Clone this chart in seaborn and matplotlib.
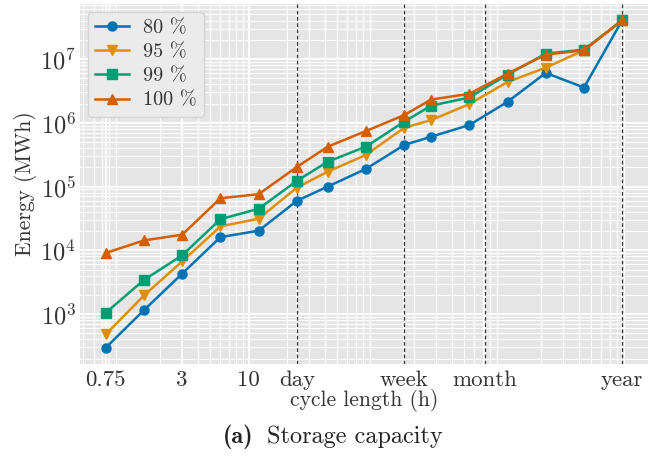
import matplotlib
matplotlib.use("Agg")
import matplotlib.pyplot as plt
import matplotlib.ticker as mticker
import seaborn as sns
import pandas as pd

# ---- data ----
cycle_hours = [0.75, 1.5, 3, 6, 12, 24, 42, 84, 168, 273.75, 547.5, 1095, 2190, 4380, 8760]
energy_80 = [298, 1155, 4325, 16100, 20300, 59700, 100000, 189000, 448000, 604000, 921000, 2.13e6, 6.04e6, 3.57e6, 4.03e7]
energy_95 = [482, 1960, 6730, 23700, 31300, 96400, 171000, 313000, 835000, 1.10e6, 1.96e6, 4.36e6, 7.31e6, 1.37e7, 4.03e7]
energy_99 = [1050, 3440, 8360, 30800, 44800, 123000, 245000, 422000, 1.04e6, 1.85e6, 2.49e6, 5.69e6, 1.21e7, 1.40e7, 4.03e7]
energy_100 = [9100, 14300, 17600, 65600, 75900, 203000, 422000, 741000, 1.32e6, 2.31e6, 2.84e6, 5.89e6, 1.17e7, 1.37e7, 4.03e7]
series_labels = ["80 %", "95 %", "99 %", "100 %"]
tick_values = [0.75, 3, 10, 24, 168, 730, 8760]
tick_labels = ["0.75", "3", "10", "day", "week", "month", "year"]
marker_lines = [24, 168, 730, 8760]

sns.set_style({"axes.facecolor": "#E5E5E5", "grid.color": "white",
               "axes.edgecolor": "#E5E5E5", "axes.grid": True})
plt.rcParams["font.family"] = ["cmr10", "DejaVu Serif"]
plt.rcParams["mathtext.fontset"] = "cm"
plt.rcParams["axes.formatter.use_mathtext"] = True
plt.rcParams["axes.unicode_minus"] = False

palette = sns.color_palette("colorblind")
colors = [palette[0], palette[1], palette[2], palette[3]]
markers = ["o", "v", "s", "^"]
all_series = [energy_80, energy_95, energy_99, energy_100]

fig = plt.figure(figsize=(6.65, 4.58), dpi=100)
ax = fig.add_axes([80 / 665, 1 - 364 / 458, (648 - 80) / 665, (364 - 4) / 458])

for lab, vals, c, m in zip(series_labels, all_series, colors, markers):
    df = pd.DataFrame({"x": cycle_hours, "y": vals})
    sns.lineplot(data=df, x="x", y="y", ax=ax, color=c, marker=m, markersize=6.5,
                 mec=c, mew=1, linewidth=1.8, label=lab)

ax.set_xscale("log")
ax.set_yscale("log")

for v in marker_lines:
    ax.axvline(v, color="#333333", linestyle=(0, (3, 2)), linewidth=0.9, zorder=1.5)

ax.xaxis.set_major_locator(mticker.FixedLocator(tick_values))
ax.xaxis.set_major_formatter(mticker.FixedFormatter(tick_labels))
ax.xaxis.set_minor_locator(mticker.LogLocator(base=10, subs=range(2, 10), numticks=20))
ax.xaxis.set_minor_formatter(mticker.NullFormatter())
ax.yaxis.set_minor_locator(mticker.LogLocator(base=10, subs=range(2, 10), numticks=20))
ax.yaxis.set_minor_formatter(mticker.NullFormatter())

ax.grid(True, which="major", color="white", linewidth=1.3)
ax.grid(True, which="minor", color="white", linewidth=0.8)
ax.set_axisbelow(True)
for s in ax.spines.values():
    s.set_visible(False)

ax.tick_params(axis="both", which="both", length=0, labelsize=16.5, labelcolor="#333333")
ax.tick_params(axis="y", labelsize=17.5)
ax.tick_params(axis="x", pad=5)
ax.tick_params(axis="y", pad=3)

ax.set_xlabel("cycle length (h)", fontsize=15.5, color="#333333", labelpad=-1)
ax.set_ylabel("Energy (MWh)", fontsize=15.5, color="#333333", labelpad=2)

leg = ax.legend(loc="upper left", fontsize=14.5, frameon=True, facecolor="#EBEBEB",
                edgecolor="#D5D5D5", framealpha=1.0, borderaxespad=0.4,
                labelspacing=0.3, handlelength=1.7, borderpad=0.35, handletextpad=0.7)
for t in leg.get_texts():
    t.set_color("#333333")

fig.text(223 / 665, 1 - 437 / 458, "(a)", fontsize=17.5, family="cmb10",
         va="center", ha="left", color="#222222")
fig.text(267 / 665, 1 - 437 / 458, "Storage capacity", fontsize=17.5,
         va="center", ha="left", color="#222222")

fig.savefig("out.png", dpi=100)
